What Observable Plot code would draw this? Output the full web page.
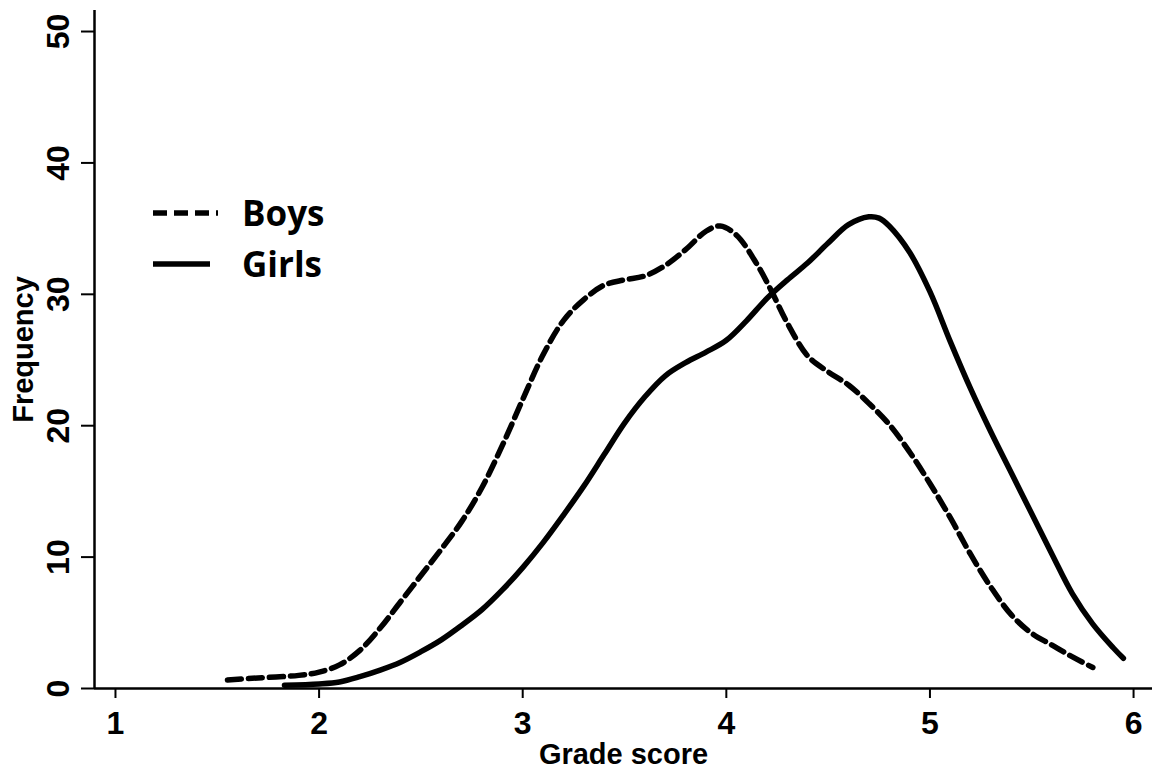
<!DOCTYPE html>
<html>
<head>
<meta charset="utf-8">
<script src="https://cdn.jsdelivr.net/npm/d3@7"></script>
<script src="https://cdn.jsdelivr.net/npm/@observablehq/plot@0.6"></script>
<style>
  html, body { margin: 0; padding: 0; background: #fff; }
  #wrap { position: relative; width: 1153px; height: 774px; }
  #legend { position: absolute; left: 150px; top: 187px; font-family: "Open Sans", "Noto Sans", sans-serif; font-weight: 700; font-size: 35px; color: #000; }
  .item { display: flex; align-items: center; height: 51px; }
  .item svg { margin-right: 22px; }
</style>
</head>
<body>
<div id="wrap"><div id="legend"></div></div>
<script>
// Categories / series names
const seriesNames = ["Boys", "Girls"];
// Tick labels
const xTicks = [1, 2, 3, 4, 5, 6];
const yTicks = [0, 10, 20, 30, 40, 50];
// Boys (dashed) – grade score vs frequency
const boysX = [1.55, 1.7, 1.9, 2.0, 2.1, 2.2, 2.3, 2.4, 2.5, 2.6, 2.7, 2.8, 2.9, 3.0, 3.1, 3.2, 3.3, 3.4, 3.5, 3.6, 3.7, 3.8, 3.9, 3.97, 4.05, 4.15, 4.22, 4.3, 4.4, 4.5, 4.6, 4.7, 4.8, 4.9, 5.0, 5.1, 5.2, 5.3, 5.4, 5.5, 5.6, 5.7, 5.8];
const boysY = [0.65, 0.8, 1.0, 1.25, 1.8, 2.9, 4.6, 6.6, 8.6, 10.6, 12.7, 15.3, 18.5, 22.0, 25.4, 28.0, 29.6, 30.7, 31.1, 31.4, 32.2, 33.4, 34.8, 35.2, 34.5, 32.3, 30.3, 27.8, 25.3, 24.1, 23.1, 21.7, 20.1, 18.0, 15.6, 13.0, 10.2, 7.7, 5.6, 4.2, 3.3, 2.4, 1.6];
// Girls (solid)
const girlsX = [1.83, 2.0, 2.1, 2.2, 2.3, 2.4, 2.5, 2.6, 2.7, 2.8, 2.9, 3.0, 3.1, 3.2, 3.3, 3.4, 3.5, 3.6, 3.7, 3.8, 3.9, 4.0, 4.1, 4.2, 4.3, 4.4, 4.5, 4.6, 4.7, 4.75, 4.8, 4.9, 5.0, 5.1, 5.2, 5.3, 5.4, 5.5, 5.6, 5.7, 5.8, 5.9, 5.95];
const girlsY = [0.25, 0.35, 0.5, 0.9, 1.4, 2.0, 2.8, 3.7, 4.8, 6.0, 7.5, 9.2, 11.1, 13.2, 15.4, 17.8, 20.2, 22.2, 23.8, 24.8, 25.6, 26.5, 28.0, 29.7, 31.1, 32.4, 33.9, 35.3, 35.9, 35.8, 35.2, 33.2, 30.2, 26.4, 22.8, 19.5, 16.4, 13.3, 10.2, 7.2, 4.9, 3.1, 2.3];

const xLabel = "Grade score";
const yLabel = "Frequency";

const boys = boysX.map((x, i) => ({x, y: boysY[i]}));
const girls = girlsX.map((x, i) => ({x, y: girlsY[i]}));

const xDomain = [0.897, 6.093];
const dash = "14,7";
const lw = 5.5;

const chart = Plot.plot({
  width: 1153,
  height: 774,
  marginLeft: 94,
  marginRight: 1,
  marginTop: 10,
  marginBottom: 86,
  x: {domain: xDomain},
  y: {domain: [0, 51.6]},
  style: {fontFamily: "'Liberation Sans', Arial, sans-serif", fontSize: "29px", fontWeight: "bold", color: "#000", background: "#fff", overflow: "visible"},
  marks: [
    Plot.axisX({ticks: xTicks, tickFormat: d => String(d), tickSize: 10, tickPadding: 13, strokeWidth: 2, fontSize: 32, label: null}),
    Plot.axisX({ticks: [], label: xLabel, labelAnchor: "center", labelOffset: 75, labelArrow: "none"}),
    Plot.axisY({ticks: yTicks, tickFormat: d => String(d), tickSize: 13, tickRotate: -90, tickPadding: 13, strokeWidth: 2, fontSize: 32, label: null}),
    Plot.axisY({ticks: [], label: yLabel, labelAnchor: "center", labelOffset: 82, labelArrow: "none"}),
    Plot.ruleX([xDomain[0]], {stroke: "#000", strokeWidth: 2.5}),
    Plot.ruleY([0], {stroke: "#000", strokeWidth: 2.5}),
    Plot.line(boys, {x: "x", y: "y", stroke: "#000", strokeWidth: lw, strokeDasharray: dash, curve: "catmull-rom"}),
    Plot.line(girls, {x: "x", y: "y", stroke: "#000", strokeWidth: lw, curve: "catmull-rom"})
  ]
});
document.getElementById("wrap").prepend(chart);

// Legend
const legend = d3.select("#legend");
seriesNames.forEach((name, i) => {
  const item = legend.append("div").attr("class", "item");
  const svg = item.append("svg").attr("width", 70).attr("height", 12);
  svg.append("line").attr("x1", 3).attr("x2", i === 0 ? 68 : 60).attr("y1", 6).attr("y2", 6)
    .attr("stroke", "#000").attr("stroke-width", lw)
    .attr("stroke-dasharray", i === 0 ? dash : null);
  item.append("span").text(name);
});
</script>
</body>
</html>
